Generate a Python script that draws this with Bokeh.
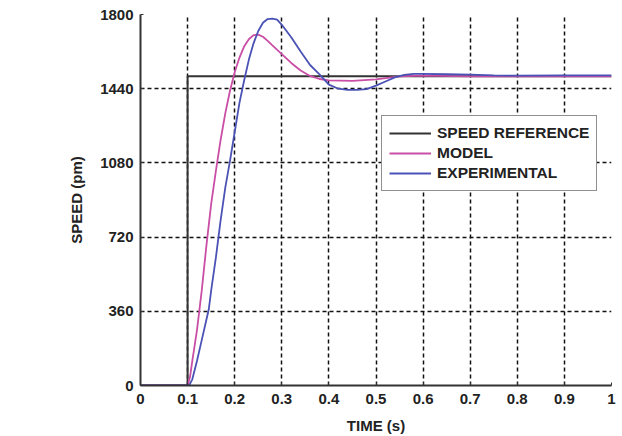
from bokeh.plotting import figure
from bokeh.models import FixedTicker, Legend, LegendItem, Range1d
from bokeh.embed import file_html
from bokeh.resources import INLINE

# ---- data ----
ref_t = [0.0, 0.1, 0.1, 1.0]
ref_speed = [0, 0, 1500, 1500]

model_t = [0.0, 0.1, 0.105, 0.11, 0.12, 0.13, 0.14, 0.15, 0.16, 0.17, 0.18, 0.19,
           0.2, 0.21, 0.22, 0.23, 0.24, 0.25, 0.26, 0.27, 0.28, 0.3, 0.32, 0.34,
           0.36, 0.38, 0.4, 0.45, 0.5, 0.55, 0.6, 0.7, 0.8, 0.9, 1.0]
model_speed = [0, 0, 40, 120, 270, 460, 680, 880, 1040, 1190, 1320, 1430,
               1520, 1590, 1645, 1680, 1700, 1702, 1692, 1672, 1650, 1608, 1565, 1528,
               1502, 1487, 1480, 1478, 1485, 1500, 1503, 1500, 1500, 1500, 1500]

exp_t = [0.0, 0.1, 0.103, 0.11, 0.12, 0.13, 0.14, 0.145, 0.15, 0.16, 0.17, 0.18, 0.19,
         0.2, 0.21, 0.22, 0.23, 0.24, 0.25, 0.26, 0.27, 0.28, 0.29, 0.3, 0.32, 0.34,
         0.36, 0.38, 0.4, 0.42, 0.44, 0.46, 0.48, 0.5, 0.52, 0.54, 0.56, 0.58, 0.6,
         0.65, 0.7, 0.75, 0.8, 0.9, 1.0]
exp_speed = [0, 0, 0, 30, 120, 220, 320, 370, 460, 620, 800, 960, 1090,
             1230, 1370, 1480, 1580, 1660, 1720, 1760, 1778, 1780, 1775, 1750, 1690, 1620,
             1555, 1510, 1460, 1440, 1434, 1434, 1438, 1455, 1475, 1495, 1507, 1512, 1512,
             1510, 1508, 1505, 1503, 1505, 1505]

x_ticks = [0, 0.1, 0.2, 0.3, 0.4, 0.5, 0.6, 0.7, 0.8, 0.9, 1.0]
x_tick_labels = ["0", "0.1", "0.2", "0.3", "0.4", "0.5", "0.6", "0.7", "0.8", "0.9", "1"]
y_ticks = [0, 360, 720, 1080, 1440, 1800]

FONT = "Liberation Sans"

p = figure(frame_width=471, frame_height=371, output_backend="svg", toolbar_location=None,
           x_range=Range1d(0, 1), y_range=Range1d(0, 1800),
           min_border_left=140, min_border_top=14, min_border_right=10, min_border_bottom=48)
p.outline_line_color = None
p.background_fill_color = "white"

r_ref = p.line(ref_t, ref_speed, line_color="#333333", line_width=2)
r_model = p.line(model_t, model_speed, line_color="#c94ea6", line_width=1.8)
r_exp = p.line(exp_t, exp_speed, line_color="#4b52b5", line_width=1.8)

for ax in (p.xaxis[0], p.yaxis[0]):
    ax.axis_line_color = "#333333"
    ax.axis_line_width = 2
    ax.major_tick_in = 3
    ax.major_tick_out = 0
    ax.minor_tick_line_color = None
    ax.major_tick_line_color = "#333333"
    ax.major_label_text_font = FONT
    ax.major_label_text_font_style = "bold"
    ax.major_label_text_font_size = "15px"
    ax.major_label_text_color = "#222222"
    ax.axis_label_text_font = FONT
    ax.axis_label_text_font_style = "bold"
    ax.axis_label_text_font_size = "15px"
    ax.axis_label_text_color = "#222222"

p.xaxis[0].ticker = FixedTicker(ticks=x_ticks)
p.xaxis[0].major_label_overrides = {t: l for t, l in zip(x_ticks, x_tick_labels)}
p.yaxis[0].ticker = FixedTicker(ticks=y_ticks)
p.xaxis[0].axis_label = "TIME (s)"
p.yaxis[0].axis_label = "SPEED (pm)"
p.xaxis[0].major_label_standoff = 8
p.xaxis[0].axis_label_standoff = 10
p.yaxis[0].major_label_standoff = 7
p.yaxis[0].axis_label_standoff = 12

for g in (p.xgrid[0], p.ygrid[0]):
    g.grid_line_color = "#111111"
    g.grid_line_dash = "4 3"
    g.grid_line_width = 1.5
p.xgrid[0].ticker = FixedTicker(ticks=x_ticks)
p.ygrid[0].ticker = FixedTicker(ticks=y_ticks)

legend = Legend(items=[LegendItem(label="SPEED REFERENCE", renderers=[r_ref]),
                       LegendItem(label="MODEL", renderers=[r_model]),
                       LegendItem(label="EXPERIMENTAL", renderers=[r_exp])],
                location=(241, 194))
legend.label_text_font = FONT
legend.label_text_font_style = "bold"
legend.label_text_font_size = "15.5px"
legend.label_text_color = "#222222"
legend.glyph_width = 42
legend.label_standoff = 6
legend.padding = 7
legend.spacing = 0
legend.label_height = 20
legend.glyph_height = 20
legend.border_line_color = "#222222"
legend.border_line_width = 1.5
legend.background_fill_alpha = 1
legend.margin = 0
p.add_layout(legend, "center")

open("out.html", "w").write(file_html(p, INLINE))
